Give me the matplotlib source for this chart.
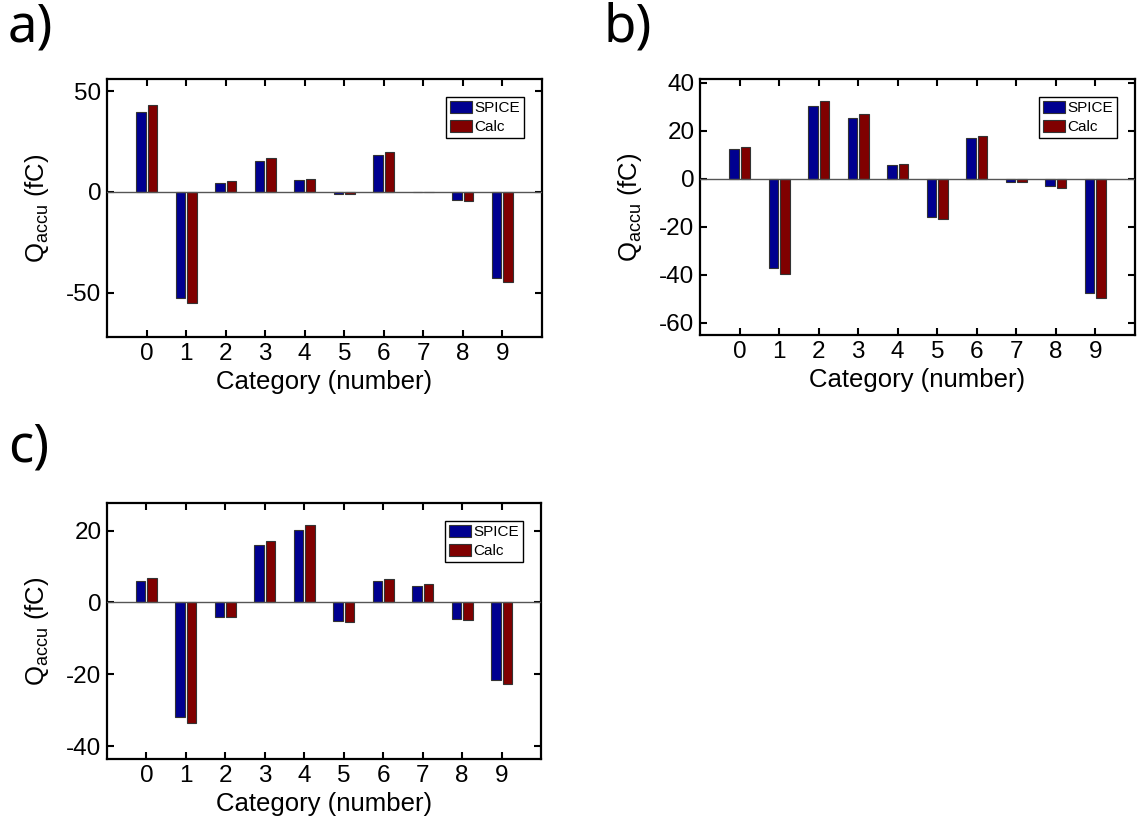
import numpy as np
import matplotlib
matplotlib.use("Agg")
import matplotlib.pyplot as plt

plt.rcParams['font.family'] = ['Liberation Sans', 'DejaVu Sans']
plt.rcParams['mathtext.fontset'] = 'custom'
plt.rcParams['mathtext.rm'] = 'Liberation Sans'
plt.rcParams['mathtext.it'] = 'Liberation Sans:italic'
plt.rcParams['axes.unicode_minus'] = False

# accumulated charge per category, simulated vs calculated
categories = np.arange(10)

spice_a = [39.6, -52.5, 4.5, 15.2, 6.1, -1.2, 18.3, 0.0, -3.8, -42.6]
calc_a = [42.9, -55.1, 5.3, 16.7, 6.6, -1.2, 19.6, 0.0, -4.3, -44.7]

spice_b = [12.2, -37.4, 30.1, 25.1, 5.7, -16.1, 16.9, -1.2, -3.2, -47.5]
calc_b = [13.2, -39.6, 32.4, 26.8, 6.0, -16.8, 17.8, -1.2, -3.9, -49.9]

spice_c = [6.1, -32.0, -4.0, 15.9, 20.3, -5.1, 5.9, 4.5, -4.5, -21.5]
calc_c = [6.8, -33.7, -4.0, 17.0, 21.6, -5.4, 6.6, 5.2, -4.8, -22.7]

W, H = 1141, 825
fig = plt.figure(figsize=(W / 100, H / 100), dpi=100)


def px_axes(x0, y0, x1, y1):
    return fig.add_axes([x0 / W, 1 - y1 / H, (x1 - x0) / W, (y1 - y0) / H])


def draw_panel(ax, spice, calc, ylim, yticks):
    w = 0.24
    ax.bar(categories - 0.145, spice, w, color='#000090', edgecolor='#333333',
           linewidth=0.8, label='SPICE', zorder=2)
    ax.bar(categories + 0.145, calc, w, color='#800000', edgecolor='#333333',
           linewidth=0.8, label='Calc', zorder=2)
    ax.axhline(0, color='#555555', lw=1.0, zorder=3)
    ax.set_xlim(-1, 10)
    ax.set_ylim(*ylim)
    ax.set_xticks(categories)
    ax.set_yticks(yticks)
    ax.tick_params(direction='in', top=True, right=True, length=5, width=1.5,
                   labelsize=17.5, pad=4)
    for s in ax.spines.values():
        s.set_linewidth(1.6)
    ax.set_xlabel('Category (number)', fontsize=18.5, labelpad=4)
    ax.set_ylabel(r'Q$_{\mathrm{accu}}$ (fC)', fontsize=18.5, labelpad=11)
    leg = ax.legend(loc='upper right', fontsize=11, fancybox=False,
                    edgecolor='black', framealpha=1, borderaxespad=1.2,
                    handlelength=1.45, handleheight=0.8, handletextpad=0.15,
                    labelspacing=0.3, borderpad=0.25)
    leg.get_frame().set_linewidth(1.0)


ax_a = px_axes(107, 79, 542, 337)
draw_panel(ax_a, spice_a, calc_a, (-72, 56), [-50, 0, 50])

ax_b = px_axes(700, 79, 1135, 335)
draw_panel(ax_b, spice_b, calc_b, (-65.1, 41.5), [-60, -40, -20, 0, 20, 40])

ax_c = px_axes(107, 503, 541, 759)
draw_panel(ax_c, spice_c, calc_c, (-43.6, 27.7), [-40, -20, 0, 20])

# panel letters
for lbl, x, y in [('a)', 8, 1), ('b)', 603, 1), ('c)', 8, 422)]:
    fig.text(x / W, 1 - y / H, lbl, fontsize=38, family='Noto Sans',
             ha='left', va='top')

fig.savefig('out.png', dpi=100)
